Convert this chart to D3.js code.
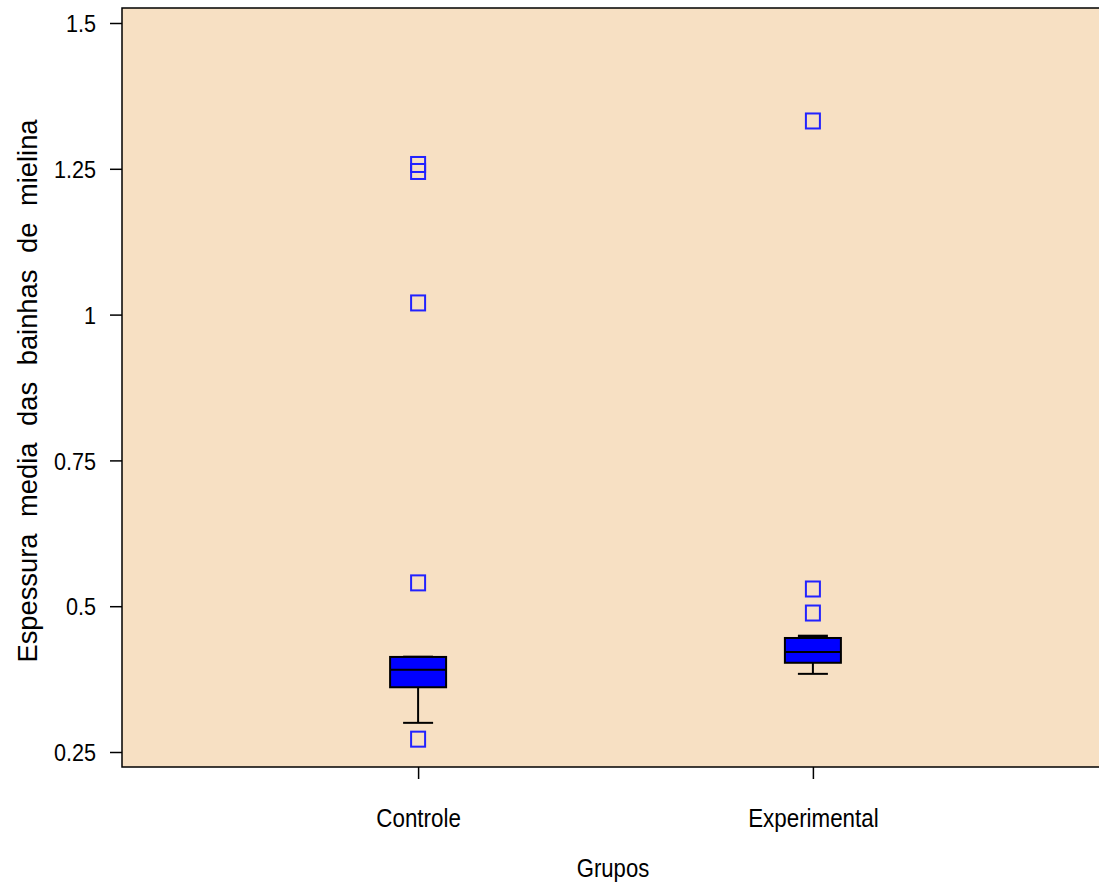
<!DOCTYPE html>
<html>
<head>
<meta charset="utf-8">
<script src="https://cdn.jsdelivr.net/npm/d3@7/dist/d3.min.js"></script>
<style>
  html, body { margin: 0; padding: 0; background: #ffffff; }
  svg { display: block; }
  text { font-family: "Liberation Sans", Arial, sans-serif; fill: #000; }
</style>
</head>
<body>
<svg id="chart" width="1099" height="887"></svg>
<script>
// Groups and box summaries (mean myelin sheath thickness)
const groups = ["Controle", "Experimental"];
const q1 = [0.361, 0.403];
const median = [0.391, 0.4215];
const q3 = [0.413, 0.4455];
const whiskerLow = [0.300, 0.384];
const whiskerHigh = [0.413, 0.449];
const outliers = [
  [0.272, 0.540, 1.020, 1.2454, 1.2574],
  [0.4883, 0.5295, 1.332]
];
const yTicks = [0.25, 0.5, 0.75, 1, 1.25, 1.5];
const yTickLabels = ["0.25", "0.5", "0.75", "1", "1.25", "1.5"];
const yTitle = "Espessura media das bainhas de mielina";
const xTitle = "Grupos";

const FONT = "Liberation Sans, Arial, sans-serif";
const svg = d3.select("#chart");
const plot = { left: 122, top: 8, right: 1109, bottom: 767 };

const y = d3.scaleLinear().domain([0.25, 1.5]).range([752, 23]);
const x = d3.scalePoint().domain(groups).range([plot.left, plot.right]).padding(0.75);

// narrow the glyphs horizontally, keeping their height
function squeeze(sel, factor) {
  sel.each(function () {
    const len = this.getComputedTextLength();
    d3.select(this).attr("textLength", len * factor).attr("lengthAdjust", "spacingAndGlyphs");
  });
}

// plot panel
svg.append("rect")
  .attr("x", plot.left).attr("y", plot.top)
  .attr("width", plot.right - plot.left).attr("height", plot.bottom - plot.top)
  .attr("fill", "#f7e0c3")
  .attr("stroke", "#000").attr("stroke-width", 1.5);

// y axis
const yAxis = d3.axisLeft(y)
  .tickValues(yTicks)
  .tickFormat((d, i) => yTickLabels[i])
  .tickSize(12).tickPadding(14);
const gy = svg.append("g").attr("transform", `translate(${plot.left},0)`).call(yAxis);
gy.select(".domain").remove();
gy.selectAll(".tick line").attr("stroke", "#000").attr("stroke-width", 1.5);
gy.selectAll(".tick text").attr("font-size", 24).attr("dy", "0.36em")
  .style("font-family", FONT).call(squeeze, 0.9);

// x axis
const xAxis = d3.axisBottom(x).tickSize(12);
const gx = svg.append("g").attr("transform", `translate(0,${plot.bottom})`).call(xAxis);
gx.select(".domain").remove();
gx.selectAll(".tick line").attr("stroke", "#000").attr("stroke-width", 1.5);
gx.selectAll(".tick text")
  .attr("y", 60).attr("dy", 0)
  .attr("font-size", 26).style("font-family", FONT).call(squeeze, 0.86);

// axis titles
svg.append("text")
  .attr("transform", `translate(37,391) rotate(-90)`)
  .attr("text-anchor", "middle").attr("font-size", 27)
  .attr("word-spacing", "9px")
  .attr("textLength", 543).attr("lengthAdjust", "spacingAndGlyphs")
  .text(yTitle);
svg.append("text")
  .attr("x", 613).attr("y", 877)
  .attr("text-anchor", "middle").attr("font-size", 26)
  .text(xTitle)
  .call(squeeze, 0.85);

// boxes
const boxHalf = 28, capHalf = 15, sqW = 14, sqH = 15;
groups.forEach((g, i) => {
  const cx = x(g);
  const gb = svg.append("g");
  // whiskers
  gb.append("line").attr("x1", cx).attr("x2", cx)
    .attr("y1", y(q1[i])).attr("y2", y(whiskerLow[i]))
    .attr("stroke", "#000").attr("stroke-width", 2);
  gb.append("line").attr("x1", cx - capHalf).attr("x2", cx + capHalf)
    .attr("y1", y(whiskerLow[i])).attr("y2", y(whiskerLow[i]))
    .attr("stroke", "#000").attr("stroke-width", 2);
  gb.append("line").attr("x1", cx).attr("x2", cx)
    .attr("y1", y(q3[i])).attr("y2", y(whiskerHigh[i]))
    .attr("stroke", "#000").attr("stroke-width", 2);
  gb.append("line").attr("x1", cx - capHalf).attr("x2", cx + capHalf)
    .attr("y1", y(whiskerHigh[i])).attr("y2", y(whiskerHigh[i]))
    .attr("stroke", "#000").attr("stroke-width", 2.5);
  // box
  gb.append("rect")
    .attr("x", cx - boxHalf).attr("y", y(q3[i]))
    .attr("width", boxHalf * 2).attr("height", y(q1[i]) - y(q3[i]))
    .attr("fill", "#0000ff").attr("stroke", "#000").attr("stroke-width", 2);
  gb.append("line").attr("x1", cx - boxHalf).attr("x2", cx + boxHalf)
    .attr("y1", y(median[i])).attr("y2", y(median[i]))
    .attr("stroke", "#000").attr("stroke-width", 2);
  // outliers
  gb.selectAll("rect.out").data(outliers[i]).enter().append("rect")
    .attr("class", "out")
    .attr("x", cx - sqW / 2).attr("y", d => y(d) - sqH / 2)
    .attr("width", sqW).attr("height", sqH)
    .attr("fill", "none").attr("stroke", "#2222ff").attr("stroke-width", 2);
});
</script>
</body>
</html>
